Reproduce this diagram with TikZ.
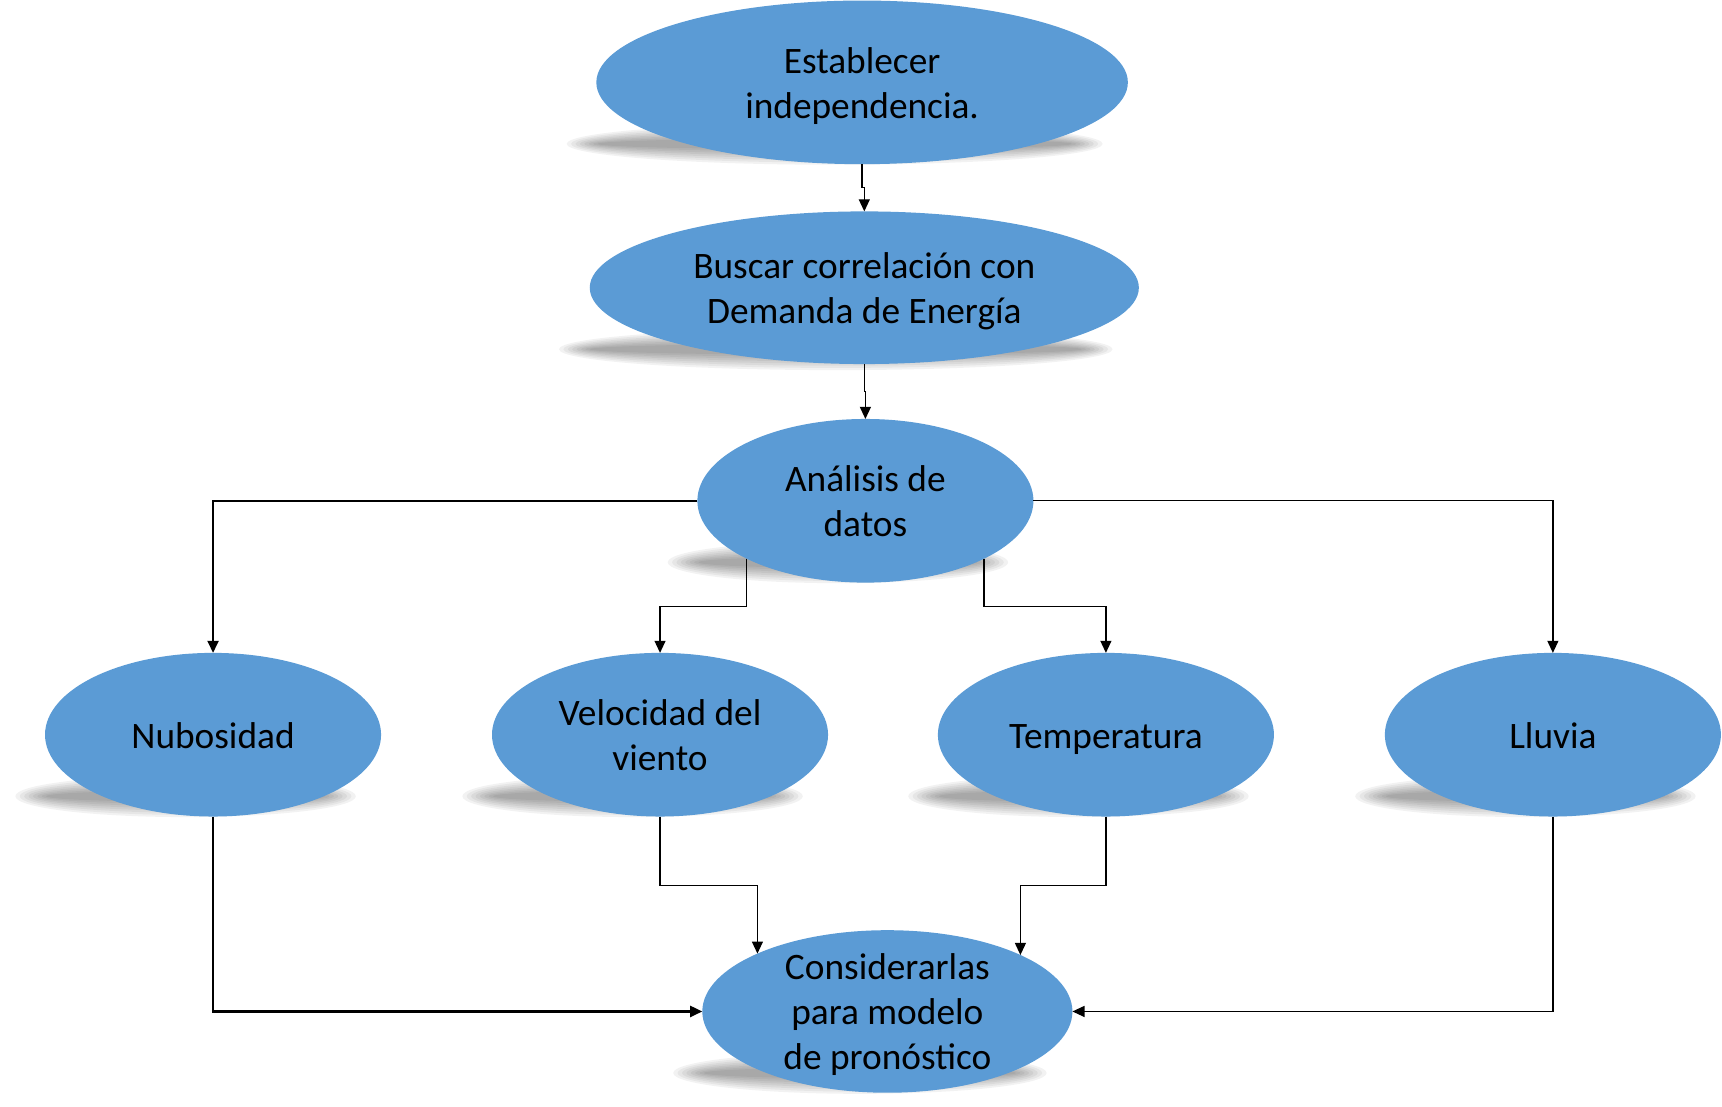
\documentclass[tikz,border=0pt]{standalone}
\usepackage{fontspec}
\setmainfont{Carlito}
\usetikzlibrary{arrows.meta,calc,shapes.geometric}
\definecolor{obl}{HTML}{5B9BD5}
\newcommand\myshadow[3]{%
  \foreach \k in {0,...,7}{%
    \fill[black,opacity=0.05] (#1-25,#2+56) ellipse [x radius={#3+2-\k*4}, y radius={19-\k*2}];%
  }%
}
\begin{document}
\begin{tikzpicture}[x=1pt,y=-1pt,
  ell/.style={ellipse,fill=obl,draw=none,inner sep=0pt,outer sep=0pt},
  txt/.style={align=center,font=\fontsize{34}{41}\selectfont,text=black,yshift=-4pt},
  arr/.style={draw=black,line width=1.2pt,-{Triangle[width=10pt,length=11pt]}},
  thk/.style={line width=2pt}]
\useasboundingbox (0,0) rectangle (1568,1008);
% shadows
\myshadow{785}{75}{242}
\myshadow{786}{262}{250}
\myshadow{788}{456}{153}
\myshadow{194}{669}{153}
\myshadow{601}{669}{153}
\myshadow{1007}{669}{153}
\myshadow{1414}{669}{153}
\myshadow{808}{921}{168}
% ellipses
\node[ell,minimum width=484pt,minimum height=149pt,label={[txt]center:\strut Establecer\\independencia.\strut}] (est) at (785,75) {};
\node[ell,minimum width=500pt,minimum height=139pt,label={[txt]center:\strut Buscar correlación con\\Demanda de Energía\strut}] (bus) at (787,262) {};
\node[ell,minimum width=306pt,minimum height=149pt,label={[txt]center:\strut Análisis de\\datos\strut}] (ana) at (788,456) {};
\node[ell,minimum width=306pt,minimum height=149pt,label={[txt]center:\strut Nubosidad}] (nub) at (194,669) {};
\node[ell,minimum width=306pt,minimum height=149pt,label={[txt]center:\strut Velocidad del\\viento\strut}] (vel) at (601,669) {};
\node[ell,minimum width=306pt,minimum height=149pt,label={[txt]center:\strut Temperatura}] (tem) at (1007,669) {};
\node[ell,minimum width=306pt,minimum height=149pt,label={[txt]center:\strut Lluvia}] (llu) at (1414,669) {};
\node[ell,minimum width=337pt,minimum height=148pt,label={[txt]center:\strut Considerarlas\\para modelo\\de pronóstico\strut}] (con) at (808,921) {};
% connectors
\draw[arr] (est.south) |- ($(est.south)!.5!(bus.north)$) -| (bus.north);
\draw[arr] (bus.south) |- ($(bus.south)!.5!(ana.north)$) -| (ana.north);
\draw[arr,thk] (ana.west) -| (nub.north);
\draw[arr] (ana.east) -| (llu.north);
\draw[arr] (ana.206) |- (vel.north |- 0,552) -- (vel.north);
\draw[arr] (ana.334) |- (tem.north |- 0,552) -- (tem.north);
\draw[arr,thk] (nub.south) |- (con.west);
\draw[arr] (llu.south) |- (con.east);
\draw[arr] (vel.south) |- (con.156 |- 0,806) -- (con.156);
\draw[arr] (tem.south) |- (con.23 |- 0,806) -- (con.23);
\end{tikzpicture}
\end{document}
